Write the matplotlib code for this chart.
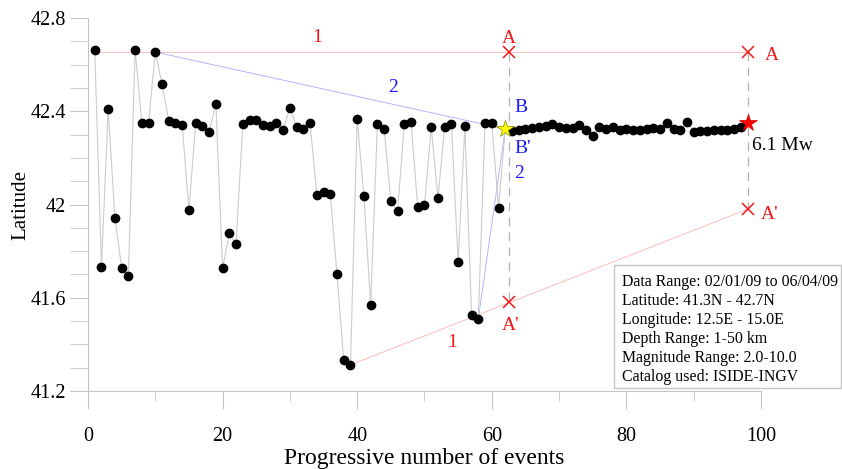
import matplotlib
matplotlib.use("Agg")
import matplotlib.pyplot as plt
import matplotlib.ticker as mticker
from matplotlib.patches import Rectangle
import numpy as np

plt.rcParams["font.family"] = ["Liberation Serif", "DejaVu Serif"]

# ─── Datos ───────────────────────────────────────────────────────────────────
event_n = np.arange(1, 99)
latitude = [
    42.663, 41.733, 42.409, 41.943, 41.728, 41.694, 42.663, 42.351, 42.351, 42.654,
    42.517, 42.359, 42.350, 42.342, 41.975, 42.350, 42.338, 42.312, 42.431, 41.726,
    41.877, 41.830, 42.344, 42.361, 42.361, 42.341, 42.336, 42.348, 42.321, 42.414,
    42.334, 42.322, 42.348, 42.042, 42.052, 42.046, 41.700, 41.331, 41.312, 42.367,
    42.035, 41.567, 42.345, 42.325, 42.015, 41.973, 42.344, 42.354, 41.988, 41.997,
    42.331, 42.026, 42.334, 42.346, 41.753, 42.335, 41.524, 41.510, 42.351, 42.348,
    41.986, 42.324, 42.316, 42.319, 42.324, 42.327, 42.331, 42.336, 42.345, 42.333,
    42.327, 42.327, 42.341, 42.319, 42.294, 42.331, 42.324, 42.331, 42.319, 42.322,
    42.320, 42.318, 42.322, 42.328, 42.325, 42.348, 42.322, 42.318, 42.355, 42.312,
    42.315, 42.316, 42.318, 42.318, 42.320, 42.322, 42.333, 42.348,
]
star_yellow_n = 62
star_red_n = 98

# lineas de tendencia (1 = rojo, 2 = azul)
red_top_x, red_top_y = [1, 98], [42.655, 42.655]
red_low_x, red_low_y = [39, 98], [41.312, 41.980]
blue_top_x, blue_top_y = [10, 62], [42.654, 42.324]
blue_low_x, blue_low_y = [58, 62], [41.510, 42.324]

# cruces A / A'
cut_x = [62.5, 98]
cut_top = [42.655, 42.655]
cut_low = [41.580, 41.980]

info_lines = [
    "Data Range: 02/01/09 to 06/04/09",
    "Latitude: 41.3N - 42.7N",
    "Longitude: 12.5E - 15.0E",
    "Depth Range: 1-50 km",
    "Magnitude Range: 2.0-10.0",
    "Catalog used: ISIDE-INGV",
]

RED = "#f01818"
BLUE = "#1a1aff"
LIGHT_RED = "#ffbcbc"
LIGHT_BLUE = "#b4b4ff"
SPINE = "#c4c4c4"

# ─── Grafica ─────────────────────────────────────────────────────────────────
fig = plt.figure(figsize=(8.42, 4.69), dpi=100)
ax = fig.add_axes([0.1045, 0.1663, 0.7993, 0.7953])

ax.plot(red_top_x, red_top_y, color=LIGHT_RED, lw=0.7, zorder=1)
ax.plot(red_low_x, red_low_y, color=LIGHT_RED, lw=0.7, zorder=1)
ax.plot(blue_top_x, blue_top_y, color=LIGHT_BLUE, lw=0.7, zorder=1)
ax.plot(blue_low_x, blue_low_y, color=LIGHT_BLUE, lw=0.7, zorder=1)

for cx, ct, cl in zip(cut_x, cut_top, cut_low):
    ax.plot([cx, cx], [ct, cl], color="#b0b0b0", lw=0.9, ls=(0, (7, 5)), zorder=1)
ax.plot(cut_x, cut_top, ls="none", marker="x", ms=8, mew=1.1, color=RED, zorder=5)
ax.plot(cut_x, cut_low, ls="none", marker="x", ms=8, mew=1.1, color=RED, zorder=5)

lat = np.array(latitude)
ax.plot(event_n, lat, color="#cccccc", lw=0.8, zorder=2)
dots = (event_n != star_yellow_n) & (event_n != star_red_n)
ax.plot(event_n[dots], lat[dots], ls="none", marker="o", ms=6, color="black", zorder=3)
ax.plot(star_yellow_n, lat[star_yellow_n - 1], marker="*", ms=13, color="#ffff00",
        mec="#888800", mew=0.5, zorder=6)
ax.plot(star_red_n, lat[star_red_n - 1], marker="*", ms=13, color="#ff0000",
        mec="#cc0000", mew=0.5, zorder=6)

# etiquetas
ax.text(34, 42.718, "1", color=RED, fontsize=14, ha="center", va="center")
ax.text(45.3, 42.502, "2", color=BLUE, fontsize=14, ha="center", va="center")
ax.text(54.1, 41.409, "1", color=RED, fontsize=14, ha="center", va="center")
ax.text(62.5, 42.712, "A", color=RED, fontsize=14, ha="center", va="center")
ax.text(62.8, 41.482, "A'", color=RED, fontsize=14, ha="center", va="center")
ax.text(63.3, 42.418, "B", color=BLUE, fontsize=14, ha="left", va="center")
ax.text(63.3, 42.242, "B'", color=BLUE, fontsize=14, ha="left", va="center")
ax.text(63.3, 42.135, "2", color=BLUE, fontsize=14, ha="left", va="center")
ax.text(100.5, 42.641, "A", color=RED, fontsize=14, ha="left", va="center")
ax.text(100.0, 41.959, "A'", color=RED, fontsize=14, ha="left", va="center")
ax.text(98.7, 42.255, "6.1 Mw", color="black", fontsize=14, ha="left", va="center")

# cuadro de informacion
box = Rectangle((0.7816, 0.008), 0.3373, 0.330, transform=ax.transAxes,
                facecolor="white", edgecolor=SPINE, lw=1.0, clip_on=False, zorder=7)
ax.add_patch(box)
for i, line in enumerate(info_lines):
    ax.text(0.7935, 0.292 - i * 0.0509, line, transform=ax.transAxes,
            fontsize=11.4, ha="left", va="center", zorder=8, clip_on=False)

ax.set_xlim(0, 100)
ax.set_ylim(41.2, 42.8)
ax.xaxis.set_major_locator(mticker.MultipleLocator(20))
ax.xaxis.set_minor_locator(mticker.MultipleLocator(10))
ax.yaxis.set_major_locator(mticker.MultipleLocator(0.4))
ax.yaxis.set_minor_locator(mticker.MultipleLocator(0.1))
ax.yaxis.set_major_formatter(mticker.FuncFormatter(lambda v, _: f"{v:g}"))

for side in ("top", "right"):
    ax.spines[side].set_visible(False)
for side in ("left", "bottom"):
    ax.spines[side].set_color(SPINE)
ax.tick_params(axis="x", which="major", direction="out", length=13, color=SPINE,
               labelsize=14.5, pad=13)
ax.tick_params(axis="x", which="minor", direction="out", length=7, color=SPINE)
ax.tick_params(axis="y", which="both", direction="out", length=13, color=SPINE,
               labelsize=14.5, pad=3)

ax.set_xlabel("Progressive number of events", fontsize=17, labelpad=1)
ax.set_ylabel("Latitude", fontsize=15, labelpad=0)

fig.savefig("out.png", dpi=100)
